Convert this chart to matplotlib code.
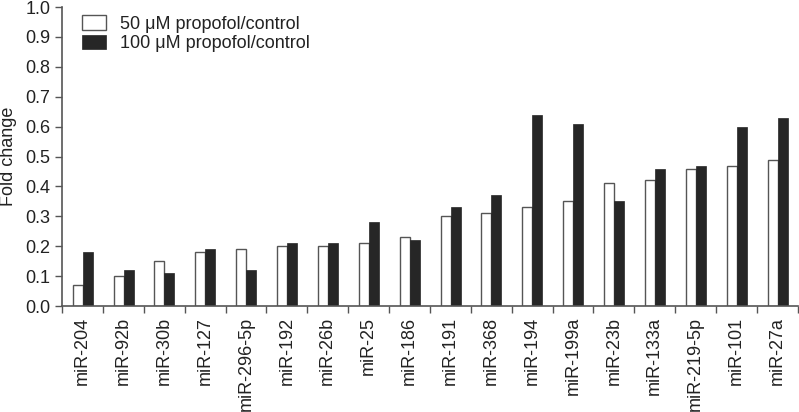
import numpy as np
import matplotlib
matplotlib.use('Agg')
import matplotlib.pyplot as plt

plt.rcParams['font.family'] = ['Liberation Sans', 'DejaVu Sans']

# Datos
mirnas = ['miR-204', 'miR-92b', 'miR-30b', 'miR-127', 'miR-296-5p', 'miR-192',
          'miR-26b', 'miR-25', 'miR-186', 'miR-191', 'miR-368', 'miR-194',
          'miR-199a', 'miR-23b', 'miR-133a', 'miR-219-5p', 'miR-101', 'miR-27a']
propofol_50 = [0.07, 0.10, 0.15, 0.18, 0.19, 0.20, 0.20, 0.21, 0.23, 0.30,
               0.31, 0.33, 0.35, 0.41, 0.42, 0.46, 0.47, 0.49]
propofol_100 = [0.18, 0.12, 0.11, 0.19, 0.12, 0.21, 0.21, 0.28, 0.22, 0.33,
                0.37, 0.64, 0.61, 0.35, 0.46, 0.47, 0.60, 0.63]
etiquetas = ['50 \u03bcM propofol/control', '100 \u03bcM propofol/control']

gris = '#555555'
negro = '#262626'

fig = plt.figure(figsize=(7.99, 4.12), dpi=100)
ax = fig.add_axes([0.0776, 0.257, 0.921, 0.726])

x = np.arange(len(mirnas))
ancho = 0.245
ax.bar(x - ancho / 2 + 0.005, propofol_50, ancho, color='white', edgecolor=gris,
       linewidth=1.0, label=etiquetas[0])
ax.bar(x + ancho / 2 + 0.005, propofol_100, ancho, color=negro, edgecolor=negro,
       linewidth=0.5, label=etiquetas[1])

ax.set_xlim(-0.5, len(mirnas) - 0.5)
ax.set_ylim(0, 1.0)
ax.set_yticks(np.arange(0, 1.01, 0.1))
ax.set_yticklabels([f'{v:.1f}' for v in np.arange(0, 1.01, 0.1)])

# etiquetas en el centro, marcas entre grupos
ax.set_xticks(x)
ax.set_xticklabels(mirnas, rotation=90)
ax.tick_params(axis='x', which='major', length=0, pad=8)
ax.set_xticks(np.arange(-0.5, len(mirnas), 1), minor=True)
ax.tick_params(axis='x', which='minor', length=5, width=1, color=gris)
ax.tick_params(axis='y', length=5, width=1, color=gris)
ax.tick_params(labelsize=13, labelcolor='#222222')

for lado in ['top', 'right']:
    ax.spines[lado].set_visible(False)
for lado in ['left', 'bottom']:
    ax.spines[lado].set_color(gris)
    ax.spines[lado].set_linewidth(1.2)

ax.set_ylabel('Fold change', fontsize=13, color='#222222', labelpad=6)

ax.legend(loc='upper left', bbox_to_anchor=(0.018, 0.996), frameon=False,
          fontsize=13, handlelength=1.3, handleheight=0.85, handletextpad=0.8,
          labelspacing=0.12, borderaxespad=0.0, labelcolor='#222222')

plt.savefig('out.png', dpi=100)
